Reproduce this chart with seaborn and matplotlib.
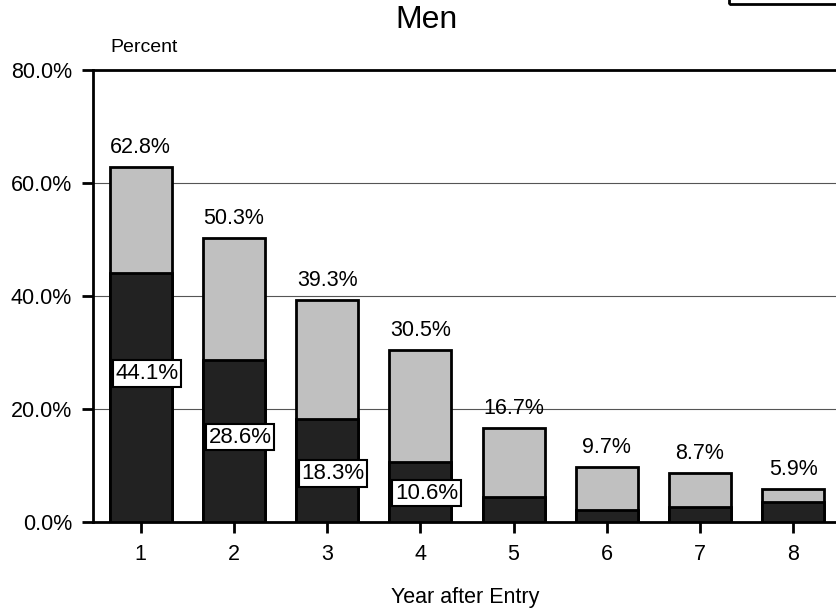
import matplotlib
matplotlib.use('Agg')
import matplotlib.pyplot as plt
import seaborn as sns
import pandas as pd
from matplotlib.patches import Rectangle

# Values
years = [1, 2, 3, 4, 5, 6, 7, 8]
total_pct = [62.8, 50.3, 39.3, 30.5, 16.7, 9.7, 8.7, 5.9]
first_pct = [44.1, 28.6, 18.3, 10.6, 4.4, 2.1, 2.7, 3.6]
y_ticks = [0, 20, 40, 60, 80]

# where the boxed labels sit inside the dark bars (first four only)
inner_label_y = [26.3, 15.0, 8.6, 5.1]

sns.set_style('white')
plt.rcParams['font.family'] = ['Liberation Sans', 'DejaVu Sans']
plt.rcParams['text.color'] = 'black'

df = pd.DataFrame({'year': years, 'total': total_pct, 'first': first_pct})

fig = plt.figure(figsize=(8.37, 6.12), dpi=100)
ax = fig.add_axes([0.111, 0.147, 0.889, 0.739])

sns.barplot(data=df, x='year', y='total', color='#c0c0c0', saturation=1,
            width=0.665, edgecolor='black', linewidth=2, ax=ax, zorder=2)
sns.barplot(data=df, x='year', y='first', color='#222222', saturation=1,
            width=0.665, edgecolor='black', linewidth=2, ax=ax, zorder=3)

ax.set_xlim(-0.514, 7.47)
ax.set_ylim(0, 80)
ax.set_yticks(y_ticks)
ax.set_yticklabels([f'{t:.1f}%' for t in y_ticks])
ax.set_xlabel('')
ax.set_ylabel('')

ax.set_axisbelow(True)
ax.yaxis.grid(True, color='#555555', linewidth=0.8)
ax.xaxis.grid(False)

for side in ['left', 'bottom', 'top']:
    ax.spines[side].set_visible(True)
    ax.spines[side].set_color('black')
    ax.spines[side].set_linewidth(2)
ax.spines['right'].set_visible(False)

ax.tick_params(axis='y', left=True, direction='out', length=8, width=2,
               pad=7, labelsize=15.5, colors='black')
ax.tick_params(axis='x', bottom=True, direction='out', length=8, width=2,
               pad=8, labelsize=15.5, colors='black')

# totals above each bar
for i, v in enumerate(total_pct):
    ax.annotate(f'{v}%', (i, v), xytext=(0, 14), textcoords='offset points',
                ha='center', va='center', fontsize=15.5, zorder=5)

# boxed first-year values
for i, y in enumerate(inner_label_y):
    ax.text(i + 0.065, y, f'{first_pct[i]}%', ha='center', va='center',
            fontsize=16, zorder=6,
            bbox=dict(boxstyle='square,pad=0.12', fc='white', ec='black', lw=1.5))

fig.text(0.510, 1 - 20 / 612, 'Men', ha='center', va='center', fontsize=23)
fig.text(110 / 837, 1 - 47 / 612, 'Percent', ha='left', va='center', fontsize=14)
fig.text(465 / 837, 1 - 597 / 612, 'Year after Entry', ha='center', va='center', fontsize=15.5)

# edge of the legend box that sits cut off at the top right
fig.patches.append(Rectangle((729 / 837, 1 - 4 / 612), 0.2, 0.1, transform=fig.transFigure,
                             fill=False, ec='black', lw=2, clip_on=False))

fig.savefig('out.png', dpi=100)
